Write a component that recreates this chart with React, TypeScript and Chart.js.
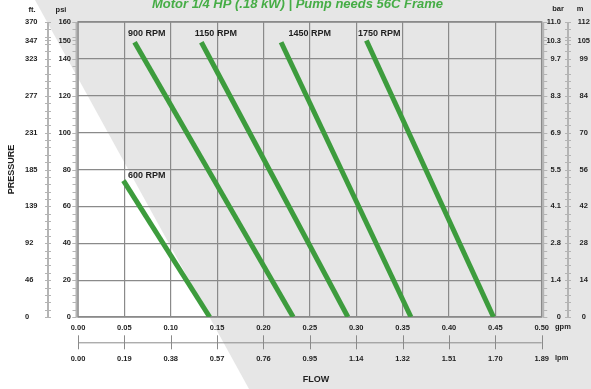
import React, { useEffect, useRef } from 'react';
import { Chart, registerables } from 'chart.js';

Chart.register(...registerables);

const TITLE = 'Motor 1/4 HP (.18 kW) | Pump needs 56C Frame';

// Flow axis (gpm) and its lpm equivalent
const gpmTicks = [0, 0.05, 0.1, 0.15, 0.2, 0.25, 0.3, 0.35, 0.4, 0.45, 0.5];
const lpmLabels = ['0.00', '0.19', '0.38', '0.57', '0.76', '0.95', '1.14', '1.32', '1.51', '1.70', '1.89'];

// Pressure axis (psi) and its ft / bar / m equivalents
const psiTicks = [0, 20, 40, 60, 80, 100, 120, 140, 150, 160];
const ftLabels = ['0', '46', '92', '139', '185', '231', '277', '323', '347', '370'];
const barLabels = ['0', '1.4', '2.8', '4.1', '5.5', '6.9', '8.3', '9.7', '10.3', '11.0'];
const mLabels = ['0', '14', '28', '42', '56', '70', '84', '99', '105', '112'];
const psiMinorStep = 4;

// Pump curves: flow (gpm) vs pressure (psi)
const rpmNames = ['600 RPM', '900 RPM', '1150 RPM', '1450 RPM', '1750 RPM'];
const flow600 = [0.049, 0.142];
const psi600 = [74, 0];
const flow900 = [0.061, 0.232];
const psi900 = [149, 0];
const flow1150 = [0.133, 0.291];
const psi1150 = [149, 0];
const flow1450 = [0.219, 0.359];
const psi1450 = [149, 0];
const flow1750 = [0.311, 0.448];
const psi1750 = [150, 0];
// curve label anchors (gpm, psi)
const labelFlow = [0.054, 0.054, 0.126, 0.227, 0.302];
const labelPsi = [76.5, 154, 154, 154, 154];

const FONT = "'Liberation Sans', Arial, sans-serif";
const TEXT = '#1e1e1e';
const GRID = '#8a8a8a';
const AXIS = '#b4b4b4';
const BG = '#e6e6e6';
const LINE = '#3d9c3d';
const TITLE_COLOR = '#46ad46';

const tickFont = { family: FONT, size: 7.5, weight: 'bold' as const };

const decor = {
  id: 'decor',
  beforeDraw(chart: any) {
    const { ctx, width, height } = chart;
    ctx.save();
    ctx.fillStyle = BG;
    ctx.fillRect(0, 0, width, height);
    ctx.fillStyle = '#ffffff';
    ctx.beginPath();
    ctx.moveTo(0, 0);
    ctx.lineTo(35, 0);
    ctx.lineTo(249, height);
    ctx.lineTo(0, height);
    ctx.closePath();
    ctx.fill();
    ctx.restore();
  },
  beforeDatasetsDraw(chart: any) {
    const { ctx, chartArea: a } = chart;
    ctx.save();
    ctx.strokeStyle = GRID;
    ctx.lineWidth = 1.5;
    ctx.strokeRect(a.left, a.top, a.right - a.left, a.bottom - a.top);
    ctx.restore();
  },
  afterDatasetsDraw(chart: any) {
    const { ctx, chartArea: a, scales } = chart;
    const ys = scales.y;
    const xs = scales.x;
    ctx.save();

    // vertical pressure axes with minor ticks
    const vals: number[] = [];
    for (let v = 0; v <= 160; v += psiMinorStep) vals.push(v);
    psiTicks.forEach((v) => vals.push(v));
    const vAxis = (x: number, t1: number, t2: number) => {
      ctx.strokeStyle = AXIS;
      ctx.lineWidth = 2;
      ctx.beginPath();
      ctx.moveTo(x, ys.getPixelForValue(160));
      ctx.lineTo(x, ys.getPixelForValue(0));
      ctx.stroke();
      ctx.lineWidth = 1;
      ctx.beginPath();
      vals.forEach((v) => {
        const p = Math.round(ys.getPixelForValue(v)) + 0.5;
        ctx.moveTo(x + t1, p);
        ctx.lineTo(x + t2, p);
      });
      ctx.stroke();
    };
    vAxis(scales.yFt.right, -3, 3);
    vAxis(a.left - 1.5, -4, 0);
    vAxis(a.right + 1.5, 0, 4);
    vAxis(scales.yM.left + 7, -3, 3);

    // lpm axis line with crossing ticks
    const xl = scales.xL;
    const ly = xl.top;
    ctx.strokeStyle = GRID;
    ctx.lineWidth = 1;
    ctx.beginPath();
    ctx.moveTo(xs.getPixelForValue(0), ly + 0.5);
    ctx.lineTo(xs.getPixelForValue(0.5), ly + 0.5);
    gpmTicks.forEach((v) => {
      const px = Math.round(xs.getPixelForValue(v)) + 0.5;
      ctx.moveTo(px, ly - 7);
      ctx.lineTo(px, ly + 7);
    });
    ctx.stroke();

    // curve labels
    ctx.fillStyle = TEXT;
    ctx.font = `bold 9px ${FONT}`;
    ctx.textAlign = 'left';
    ctx.textBaseline = 'middle';
    rpmNames.forEach((n, i) => {
      ctx.fillText(n, xs.getPixelForValue(labelFlow[i]), ys.getPixelForValue(labelPsi[i]));
    });

    // unit labels
    ctx.font = `bold 7.5px ${FONT}`;
    ctx.textAlign = 'center';
    ctx.fillText('ft.', 32, 10);
    ctx.fillText('psi', 61, 10);
    ctx.fillText('bar', 558, 9);
    ctx.fillText('m', 580, 9);
    ctx.textAlign = 'left';
    ctx.fillText('gpm', 555, xs.top + 10);
    ctx.fillText('lpm', 555, ly + 16);

    // axis titles
    ctx.font = `bold 9px ${FONT}`;
    ctx.textAlign = 'center';
    ctx.fillText('FLOW', 316, 380);
    ctx.save();
    ctx.translate(12, (a.top + a.bottom) / 2);
    ctx.rotate(-Math.PI / 2);
    ctx.fillText('PRESSURE', 0, 0);
    ctx.restore();

    // title
    ctx.fillStyle = TITLE_COLOR;
    ctx.font = `italic bold 13px ${FONT}`;
    ctx.textAlign = 'center';
    ctx.textBaseline = 'alphabetic';
    ctx.fillText(TITLE, 297.5, 7.5);

    ctx.restore();
  },
};

const psiTickObjs = () => psiTicks.map((v) => ({ value: v }));
const gpmTickObjs = () => gpmTicks.map((v) => ({ value: v }));

export default function App() {
  const ref = useRef<HTMLCanvasElement | null>(null);
  useEffect(() => {
    if (!ref.current) return;
    const mk = (fx: number[], py: number[]) => fx.map((x, i) => ({ x, y: py[i] }));
    const series = [
      mk(flow600, psi600),
      mk(flow900, psi900),
      mk(flow1150, psi1150),
      mk(flow1450, psi1450),
      mk(flow1750, psi1750),
    ];
    const chart = new Chart(ref.current, {
      type: 'line',
      data: {
        datasets: series.map((d, i) => ({
          label: rpmNames[i],
          data: d,
          borderColor: LINE,
          backgroundColor: LINE,
          borderWidth: 5,
          borderCapStyle: 'butt',
          pointRadius: 0,
          fill: false,
        })),
      },
      options: {
        responsive: false,
        animation: false,
        devicePixelRatio: 1,
        layout: { padding: { left: 25, top: 22, right: 0, bottom: 0 } },
        plugins: { legend: { display: false }, tooltip: { enabled: false }, title: { display: false } },
        scales: {
          x: {
            type: 'linear',
            position: 'bottom',
            weight: 0,
            min: 0,
            max: 0.5,
            afterBuildTicks: (s: any) => { s.ticks = gpmTickObjs(); },
            afterFit: (s: any) => { s.height = 25.3; },
            ticks: { font: tickFont, color: TEXT, padding: 6, autoSkip: false, maxRotation: 0, callback: (v: any) => Number(v).toFixed(2) },
            grid: { color: GRID, lineWidth: 1.2, drawTicks: false },
            border: { display: false },
          },
          xL: {
            type: 'linear',
            position: 'bottom',
            weight: 1,
            min: 0,
            max: 0.5,
            afterBuildTicks: (s: any) => { s.ticks = gpmTickObjs(); },
            afterFit: (s: any) => { s.height = 46.7; },
            ticks: { font: tickFont, color: TEXT, padding: 12, autoSkip: false, maxRotation: 0, callback: (_v: any, i: number) => lpmLabels[i] },
            grid: { display: false, drawTicks: false },
            border: { display: false },
          },
          y: {
            type: 'linear',
            position: 'left',
            weight: 0,
            min: 0,
            max: 160,
            afterBuildTicks: (s: any) => { s.ticks = psiTickObjs(); },
            afterFit: (s: any) => { s.width = 30; },
            ticks: { font: tickFont, color: TEXT, padding: 7, autoSkip: false, callback: (v: any) => String(v) },
            grid: {
              drawTicks: false,
              lineWidth: 1.2,
              color: (c: any) => (c.tick && c.tick.value % 20 === 0 ? GRID : 'rgba(0,0,0,0)'),
            },
            border: { display: false },
          },
          yFt: {
            type: 'linear',
            position: 'left',
            weight: 1,
            min: 0,
            max: 160,
            afterBuildTicks: (s: any) => { s.ticks = psiTickObjs(); },
            afterFit: (s: any) => { s.width = 23; },
            ticks: { font: tickFont, color: TEXT, crossAlign: 'far', autoSkip: false, callback: (_v: any, i: number) => ftLabels[i] },
            grid: { display: false, drawTicks: false },
            border: { display: false },
          },
          yBar: {
            type: 'linear',
            position: 'right',
            weight: 0,
            min: 0,
            max: 160,
            afterBuildTicks: (s: any) => { s.ticks = psiTickObjs(); },
            afterFit: (s: any) => { s.width = 19.3; },
            ticks: { font: tickFont, color: TEXT, crossAlign: 'far', autoSkip: false, callback: (_v: any, i: number) => barLabels[i] },
            grid: { display: false, drawTicks: false },
            border: { display: false },
          },
          yM: {
            type: 'linear',
            position: 'right',
            weight: 1,
            min: 0,
            max: 160,
            afterBuildTicks: (s: any) => { s.ticks = psiTickObjs(); },
            afterFit: (s: any) => { s.width = 30; },
            ticks: { font: tickFont, color: TEXT, crossAlign: 'center', padding: 16.5, autoSkip: false, callback: (_v: any, i: number) => mLabels[i] },
            grid: { display: false, drawTicks: false },
            border: { display: false },
          },
        },
      },
      plugins: [decor],
    } as any);
    return () => chart.destroy();
  }, []);
  return (
    <div style={{ position: 'absolute', left: 0, top: 0, width: 591, height: 389 }}>
      <canvas ref={ref} width={591} height={389} style={{ display: 'block' }} />
    </div>
  );
}
